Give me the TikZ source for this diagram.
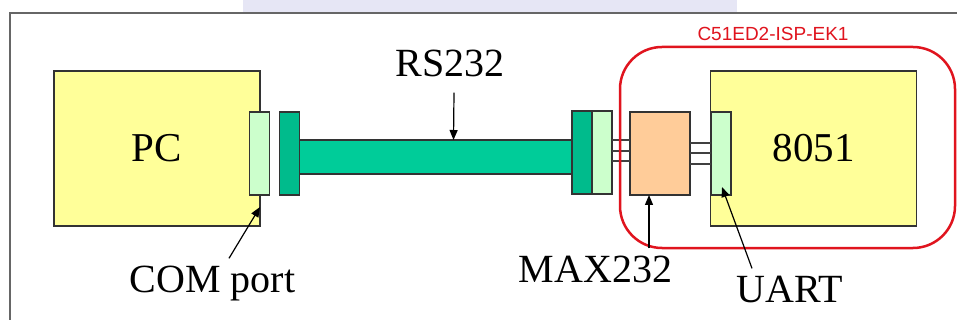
\documentclass[tikz,border=0pt]{standalone}
\usepackage{fontspec}
\setmainfont{Liberation Serif}
\newfontfamily\boardfont{Liberation Sans}
\usepackage{xcolor}
\usetikzlibrary{arrows.meta, positioning}
\definecolor{pcyellow}{HTML}{FFFF99}
\definecolor{portgreen}{HTML}{CCFFCC}
\definecolor{cablegreen}{HTML}{00CC99}
\definecolor{plugdark}{HTML}{00BB8C}
\definecolor{maxorange}{HTML}{FFCC99}
\definecolor{boardred}{HTML}{E0141E}
\definecolor{slidebar}{HTML}{E6E6F5}

\begin{document}
\begin{tikzpicture}[
  x=1pt, y=-1pt,
  box/.style={rectangle, draw=black!80, line width=1.2pt, inner sep=0pt,
              outer sep=0pt, font=\fontsize{41}{41}\selectfont},
  chip/.style={box, fill=pcyellow, minimum width=206pt, minimum height=155pt},
  port/.style={box, fill=portgreen, minimum width=20pt, minimum height=83pt},
  plug/.style={box, fill=plugdark, minimum width=20pt, minimum height=83pt},
  tag/.style={inner sep=0pt, anchor=base, font=\fontsize{40}{40}\selectfont},
  ptr/.style={-{Triangle[length=10pt,width=8pt]}, line width=1.2pt},
  wire/.style={draw=black!75, line width=1.3pt}
]

\fill[white] (0,0) rectangle (957,320);
\useasboundingbox (0,0) rectangle (957,320);
\fill[slidebar] (243,0) rectangle (737,12.2);
\draw[black!60, line width=1.5pt] (10,320) |- (957,13);

% PC side
\node[chip] (pc) at (157,148.5) {PC};
\node[port] (comport) at (259.5,153.5) {};
\node[plug, right=10pt of comport] (plugL) {};
\node[box, fill=cablegreen, minimum width=272pt, minimum height=34pt,
      right=0pt of plugL, yshift=-3.5pt] (cable) {};
\node[plug] (plugR) at (582,152.5) {};
\node[port, right=0pt of plugR] (sockR) {};

% board side
\node[box, fill=maxorange, minimum width=60pt, minimum height=83pt] (max) at (660,153.5) {};
\node[chip] (mcu) at (813.5,148.5) {8051};
\node[port] (uart) at (721,153.5) {};

\foreach \wy in {140,151,161}
  \draw[wire] (sockR.east |- 0,\wy) -- (max.west |- 0,\wy);
\foreach \wy in {143,153,164}
  \draw[wire] (max.east |- 0,\wy) -- (uart.west |- 0,\wy);

\node[draw=boardred, line width=2.5pt, rounded corners=42pt, minimum width=335pt,
      minimum height=201pt] (board) at (787.5,147.5) {};
\node[font=\boardfont\fontsize{19}{19}\selectfont, text=boardred, inner sep=0pt]
  (boardname) at (773,33.5) {C51ED2-ISP-EK1};

% labels
\node[tag] (rslbl) at (450,77) {RS232};
\node[tag] (comlbl) at (212.5,292) {COM port};
\node[tag] (maxlbl) at (595.5,282) {MAX232};
\node[tag] (uartlbl) at (789.5,302) {UART};

\draw[ptr] ([xshift=4pt,yshift=-15pt]rslbl.south) -- ([xshift=18pt]cable.north);
\draw[ptr] ([xshift=16.5pt,yshift=7pt]comlbl.north) -- ([yshift=19pt]pc.south east);
\draw[ptr] ([xshift=53.5pt,yshift=7pt]maxlbl.north) -- ([xshift=-11pt]max.south);
\draw[ptr] ([xshift=-37.5pt,yshift=7pt]uartlbl.north) -- ([xshift=1pt,yshift=8pt]uart.south);

\end{tikzpicture}
\end{document}
